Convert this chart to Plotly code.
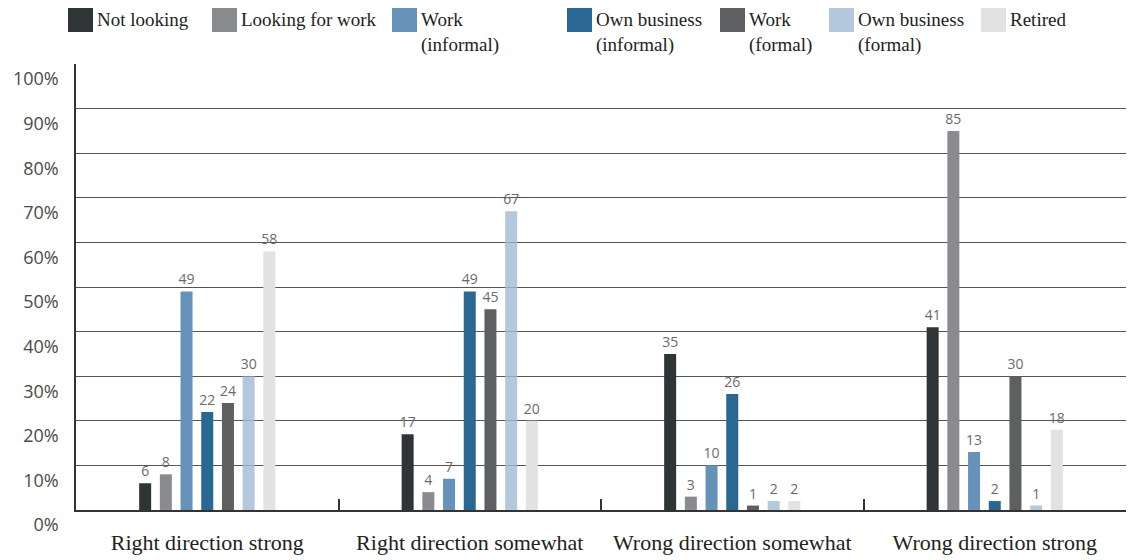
import plotly.graph_objects as go

categories = ["Right direction strong", "Right direction somewhat",
              "Wrong direction somewhat", "Wrong direction strong"]
series_names = ["Not looking", "Looking for work", "Work<br>(informal)",
                "Own business<br>(informal)", "Work<br>(formal)",
                "Own business<br>(formal)", "Retired"]
not_looking = [6, 17, 35, 41]
looking_for_work = [8, 4, 3, 85]
work_informal = [49, 7, 10, 13]
own_business_informal = [22, 49, 26, 2]
work_formal = [24, 45, 1, 30]
own_business_formal = [30, 67, 2, 1]
retired = [58, 20, 2, 18]
y_ticks = [0, 10, 20, 30, 40, 50, 60, 70, 80, 90, 100]
y_tick_labels = ["0%", "10%", "20%", "30%", "40%", "50%", "60%", "70%", "80%", "90%", "100%"]

series_values = [not_looking, looking_for_work, work_informal,
                 own_business_informal, work_formal, own_business_formal, retired]
colors = ["#2f3437", "#898b8f", "#6692ba", "#2a6792", "#5e5f61",
          "rgba(160,185,212,0.8)", "#e1e2e1"]

# page body has an 8px default margin: compensate so the screenshot lines up
OFF = 8
W, H = 1141 - OFF, 560 - OFF
# plot area in screenshot pixels: x 76..1126, y 64..510
L, R, T, B = 76 - OFF, 1141 - 1126, 64 - OFF, 560 - 510
pw, ph = W - L - R, H - T - B

def px_x(px):
    return (px - OFF - L) / pw

def px_y(py):
    return (H - B - (py - OFF)) / ph

fig = go.Figure()
for name, vals, col in zip(series_names, series_values, colors):
    fig.add_trace(go.Bar(
        x=categories, y=vals, name=name.replace("<br>", " "),
        marker=dict(color=col, line=dict(width=0)),
        text=[str(v) for v in vals], textposition="outside", constraintext="none",
        textfont=dict(family="Open Sans", size=14, color="#6a6a6a"),
        cliponaxis=False, showlegend=False,
    ))

# custom legend (large square swatches, two-line labels)
legend_px = [68, 212, 392, 567, 720, 829, 981]
for name, col, lx in zip(series_names, colors, legend_px):
    fig.add_shape(type="rect", xref="paper", yref="paper",
                  x0=px_x(lx), x1=px_x(lx + 25), y0=px_y(32), y1=px_y(8),
                  fillcolor=col, line=dict(width=0))
    fig.add_annotation(xref="paper", yref="paper", x=px_x(lx + 27), y=px_y(7),
                       xanchor="left", yanchor="top", align="left",
                       text=name, showarrow=False,
                       font=dict(family="Liberation Serif", size=19, color="#222222"))

fig.update_layout(
    width=W, height=H,
    margin=dict(l=L, r=R, t=T, b=B, pad=0, autoexpand=False),
    plot_bgcolor="white", paper_bgcolor="white",
    barmode="group", bargap=0.448, bargroupgap=0.42,
)
fig.update_xaxes(
    type="category", showgrid=False, automargin=False,
    showline=True, linecolor="#333333", linewidth=1.5,
    ticks="inside", tickson="boundaries", ticklen=11, tickcolor="#333333", tickwidth=1.5,
    tickfont=dict(family="Liberation Serif", size=22, color="#222222"),
    ticklabelstandoff=12,
)
fig.update_yaxes(
    range=[0, 100], tickmode="array", tickvals=y_ticks, ticktext=y_tick_labels,
    showgrid=True, gridcolor="#555555", gridwidth=1, automargin=False,
    showline=True, linecolor="#333333", linewidth=1.5,
    zeroline=False, ticks="",
    tickfont=dict(family="Open Sans", size=18, color="#4a4a4a"),
    ticklabelshift=15, ticklabelstandoff=12,
)

fig.write_html("out.html")
